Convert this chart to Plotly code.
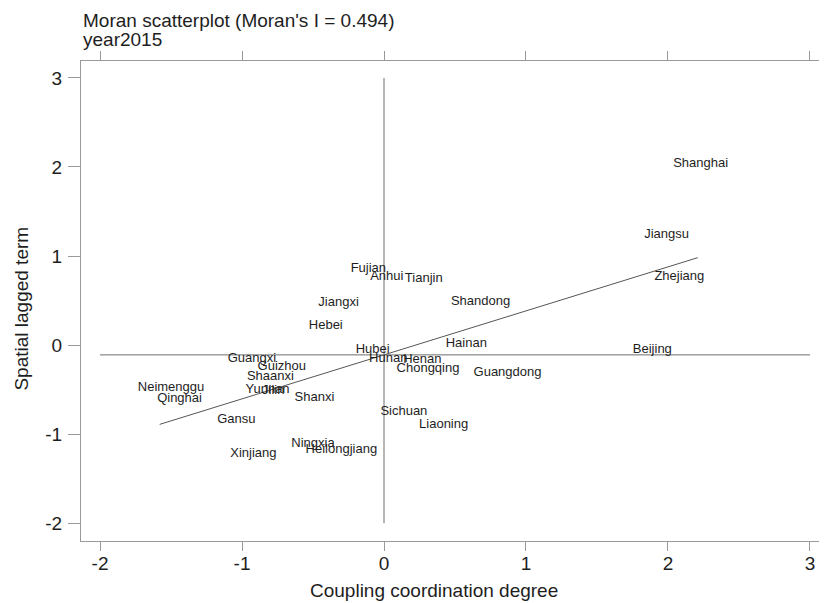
import plotly.graph_objects as go

# ---- data ----
provinces = ["Shanghai", "Jiangsu", "Zhejiang", "Beijing", "Fujian", "Anhui", "Tianjin",
             "Shandong", "Jiangxi", "Hebei", "Hainan", "Hubei", "Hunan", "Henan",
             "Chongqing", "Guangdong", "Guangxi", "Guizhou", "Shaanxi", "Yunnan", "Jilin",
             "Shanxi", "Neimenggu", "Qinghai", "Gansu", "Xinjiang", "Ningxia",
             "Heilongjiang", "Sichuan", "Liaoning"]
coupling = [2.23, 1.99, 2.08, 1.89, -0.11, 0.02, 0.28,
            0.68, -0.32, -0.41, 0.58, -0.08, 0.03, 0.27,
            0.31, 0.87, -0.93, -0.72, -0.80, -0.82, -0.78,
            -0.49, -1.50, -1.44, -1.04, -0.92, -0.50,
            -0.30, 0.14, 0.42]
spatial_lag = [2.04, 1.24, 0.77, -0.05, 0.86, 0.77, 0.75,
               0.49, 0.47, 0.22, 0.02, -0.05, -0.15, -0.17,
               -0.27, -0.31, -0.15, -0.24, -0.35, -0.50, -0.51,
               -0.59, -0.48, -0.60, -0.84, -1.22, -1.11,
               -1.17, -0.75, -0.90]

moran_i = 0.494
fit_intercept = -0.11
fit_x = [-1.58, 2.21]
mean_lag = -0.11
ref_span = [-2, 3]
x_ticks = [-2, -1, 0, 1, 2, 3]
y_ticks = [-2, -1, 0, 1, 2, 3]
x_tick_labels = ["-2", "-1", "0", "1", "2", "3"]
y_tick_labels = ["-2", "-1", "0", "1", "2", "3"]

title_line1 = "Moran scatterplot (Moran's I = 0.494)"
title_line2 = "year2015"
x_title = "Coupling coordination degree"
y_title = "Spatial lagged term"

FONT = "Liberation Sans, Arial, sans-serif"
LINE_COL = "#6e6e6e"
AXIS_COL = "#9a9a9a"

fig = go.Figure()

# horizontal reference line (mean of lag)
fig.add_trace(go.Scatter(x=ref_span, y=[mean_lag, mean_lag], mode="lines",
                         line=dict(color=LINE_COL, width=1), hoverinfo="skip",
                         showlegend=False))
# vertical reference line at 0
fig.add_trace(go.Scatter(x=[0, 0], y=ref_span, mode="lines",
                         line=dict(color=LINE_COL, width=1), hoverinfo="skip",
                         showlegend=False))
# fitted line
fit_y = [fit_intercept + moran_i * v for v in fit_x]
fig.add_trace(go.Scatter(x=fit_x, y=fit_y, mode="lines",
                         line=dict(color="#555555", width=1), hoverinfo="skip",
                         showlegend=False))
# province labels
fig.add_trace(go.Scatter(x=coupling, y=spatial_lag, mode="text", text=provinces,
                         textposition="middle center",
                         textfont=dict(family=FONT, size=13, color="#1e1e1e"),
                         showlegend=False))

axis_common = dict(showgrid=False, zeroline=False, showline=True, linecolor=AXIS_COL,
                   linewidth=1, mirror="ticks", ticks="outside", tickcolor=AXIS_COL,
                   tickwidth=1, automargin=False,
                   tickfont=dict(family=FONT, size=19, color="#1e1e1e"))

fig.update_xaxes(range=[-2.134, 3.113], tickvals=x_ticks, ticktext=x_tick_labels,
                 ticklen=9, ticklabelstandoff=-4, **axis_common)
fig.update_yaxes(range=[-2.20, 3.19], tickvals=y_ticks, ticktext=y_tick_labels,
                 ticklen=12, ticklabelstandoff=2, **axis_common)

annots = [
    dict(text=title_line1, x=0, y=1.0854, xanchor="left", yanchor="middle"),
    dict(text=title_line2, x=0, y=1.0458, xanchor="left", yanchor="middle"),
    dict(text=x_title, x=0.474, y=-0.104, xanchor="center", yanchor="middle"),
    dict(text=y_title, x=-0.08, y=0.485, xanchor="center", yanchor="middle",
         textangle=-90),
]
for a in annots:
    fig.add_annotation(xref="paper", yref="paper", showarrow=False,
                       font=dict(family=FONT, size=19, color="#1e1e1e"), **a)

# page body has an 8px margin, so the figure is sized/offset to compensate
fig.update_layout(width=819, height=595, margin=dict(l=73, r=1, t=53, b=62),
                  paper_bgcolor="white", plot_bgcolor="white",
                  font=dict(family=FONT))

fig.write_html("out.html")
